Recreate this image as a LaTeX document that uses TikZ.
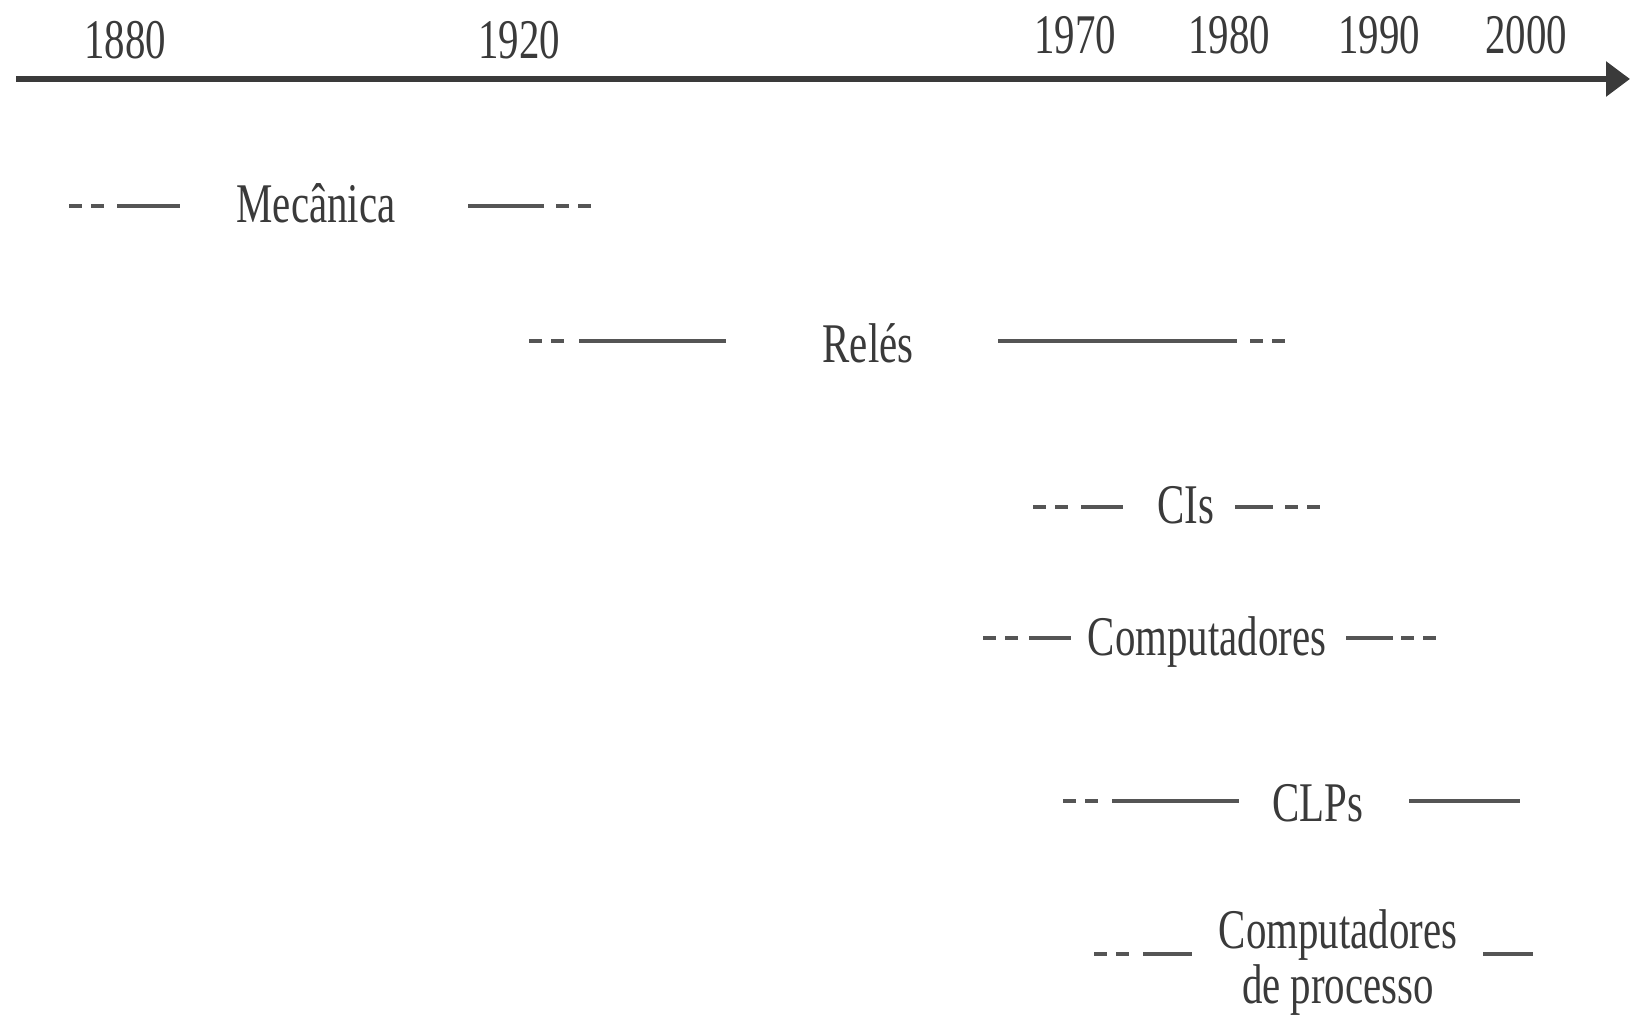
\documentclass[tikz,border=0pt]{standalone}
\usepackage{fontspec}
\setmainfont{Liberation Serif}[FakeStretch=0.73]
\usetikzlibrary{arrows.meta}
\definecolor{ink}{HTML}{3A3A3A}
\definecolor{lineink}{HTML}{555555}
\tikzset{
  lbl/.style={inner sep=0pt, anchor=base, text=ink, font=\fontsize{56}{62}\selectfont},
  solidseg/.style={draw=lineink, line width=4pt},
  dashseg/.style={draw=lineink, line width=4pt, dash pattern=on 13pt off 9pt},
  axisline/.style={draw=ink, line width=6pt, -{Triangle[length=24pt,width=34pt]}}
}
\begin{document}
\begin{tikzpicture}[x=1pt,y=-1pt]
\useasboundingbox (0,0) rectangle (1630,1016);
% axis
\coordinate (axS) at (16,79);
\coordinate (axE) at (1630,79);
\draw[axisline] (axS) -- (axE);
% years
\node[lbl] (y1880) at (125,59) {1880};
\node[lbl] (y1920) at (519,59) {1920};
\node[lbl] (y1970) at (1075,54) {1970};
\node[lbl] (y1980) at (1229,54) {1980};
\node[lbl] (y1990) at (1379,54) {1990};
\node[lbl] (y2000) at (1526,54) {2000};
% Mecanica
\node[lbl] (mec) at (316,223) {Mecânica};
\draw[dashseg] (69,206) -- (104,206);
\draw[solidseg] (117,206) -- (180,206);
\draw[solidseg] (468,206) -- (544,206);
\draw[dashseg] (556,206) -- (591,206);
% Reles
\node[lbl] (rel) at (868,362) {Relés};
\draw[dashseg] (529,341) -- (564,341);
\draw[solidseg] (579,341) -- (726,341);
\draw[solidseg] (998,341) -- (1237,341);
\draw[dashseg] (1250,341) -- (1285,341);
% CIs
\node[lbl] (cis) at (1186,523) {CIs};
\draw[dashseg] (1033,507) -- (1068,507);
\draw[solidseg] (1081,507) -- (1123,507);
\draw[solidseg] (1235,507) -- (1273,507);
\draw[dashseg] (1285,507) -- (1320,507);
% Computadores
\node[lbl] (comp) at (1207,655) {Computadores};
\draw[dashseg] (983,638) -- (1018,638);
\draw[solidseg] (1029,638) -- (1071,638);
\draw[solidseg] (1346,638) -- (1393,638);
\draw[dashseg] (1401,638) -- (1436,638);
% CLPs
\node[lbl] (clp) at (1318,821) {CLPs};
\draw[dashseg] (1063,801) -- (1098,801);
\draw[solidseg] (1112,801) -- (1239,801);
\draw[solidseg] (1409,801) -- (1520,801);
% Computadores de processo
\node[lbl] (cp1) at (1338,948) {Computadores};
\node[lbl] (cp2) at (1338,1003) {de processo};
\draw[dashseg] (1094,954) -- (1129,954);
\draw[solidseg] (1143,954) -- (1192,954);
\draw[solidseg] (1483,954) -- (1533,954);
\end{tikzpicture}
\end{document}
